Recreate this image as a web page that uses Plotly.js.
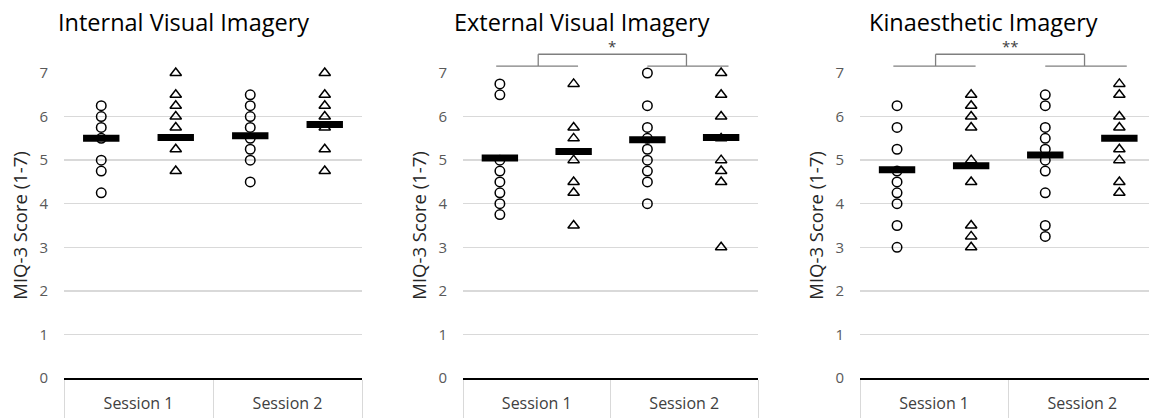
<!DOCTYPE html>
<html>
<head>
<meta charset="utf-8">
<script src="https://cdn.plot.ly/plotly-3.0.1.min.js"></script>
<style>
  html, body { margin: 0; padding: 0; background: #fff; }
  #chart { width: 1149px; height: 418px; }
</style>
</head>
<body>
<div id="chart"></div>
<script>
// Sub-positions within each session: circles (first group) and triangles (second group)
const positions = [0.5, 1.5, 2.5, 3.5];
const sessionCenters = [1, 3];
const sessionLabels = ['Session 1', 'Session 2'];
const yTicks = [0, 1, 2, 3, 4, 5, 6, 7];
const yMax = 7;

const panelTitles = ['Internal Visual Imagery', 'External Visual Imagery', 'Kinaesthetic Imagery'];
const yTitle = 'MIQ-3 Score (1-7)';

// Internal Visual Imagery
const iviS1Circles = [6.25, 6.0, 5.75, 5.5, 5.0, 4.75, 4.25];
const iviS1Triangles = [7.0, 6.5, 6.25, 6.0, 5.75, 5.25, 4.75];
const iviS2Circles = [6.5, 6.25, 6.0, 5.75, 5.5, 5.25, 5.0, 4.5];
const iviS2Triangles = [7.0, 6.5, 6.25, 6.0, 5.75, 5.25, 4.75];
const iviMeans = [5.5, 5.52, 5.56, 5.82];

// External Visual Imagery
const eviS1Circles = [6.75, 6.5, 5.0, 4.75, 4.5, 4.25, 4.0, 3.75];
const eviS1Triangles = [6.75, 5.75, 5.5, 5.0, 4.5, 4.25, 3.5];
const eviS2Circles = [7.0, 6.25, 5.75, 5.5, 5.25, 5.0, 4.75, 4.5, 4.0];
const eviS2Triangles = [7.0, 6.5, 6.0, 5.5, 5.0, 4.75, 4.5, 3.0];
const eviMeans = [5.05, 5.2, 5.47, 5.52];

// Kinaesthetic Imagery
const kiS1Circles = [6.25, 5.75, 5.25, 4.75, 4.5, 4.25, 4.0, 3.5, 3.0];
const kiS1Triangles = [6.5, 6.25, 6.0, 5.75, 5.0, 4.5, 3.5, 3.25, 3.0];
const kiS2Circles = [6.5, 6.25, 5.75, 5.5, 5.25, 5.0, 4.75, 4.25, 3.5, 3.25];
const kiS2Triangles = [6.75, 6.5, 6.0, 5.75, 5.25, 5.0, 4.5, 4.25];
const kiMeans = [4.78, 4.87, 5.12, 5.5];

// Significance brackets (panels 2 and 3), heights on the score scale
const bracketLabels = ['', '*', '**'];
const bracketLeftSpan = [0.45, 1.56];
const bracketRightSpan = [2.5, 3.6];
const bracketStems = [1.02, 3.03];
const bracketLow = 7.16;
const bracketHigh = 7.43;
const bracketLabelY = 7.62;

const panels = [
  {groups: [iviS1Circles, iviS1Triangles, iviS2Circles, iviS2Triangles], means: iviMeans},
  {groups: [eviS1Circles, eviS1Triangles, eviS2Circles, eviS2Triangles], means: eviMeans},
  {groups: [kiS1Circles, kiS1Triangles, kiS2Circles, kiS2Triangles], means: kiMeans}
];

const FONT = '"Open Sans", "Noto Sans", sans-serif';
const traces = [];
const shapes = [];
const annotations = [];

panels.forEach((p, i) => {
  const sfx = i === 0 ? '' : String(i + 1);
  const xa = 'x' + sfx, ya = 'y' + sfx;
  p.groups.forEach((vals, g) => {
    const isCircle = g % 2 === 0;
    traces.push({
      type: 'scatter', mode: 'markers', xaxis: xa, yaxis: ya,
      x: vals.map(() => positions[g]), y: vals,
      marker: {
        symbol: isCircle ? 'circle-open' : 'triangle-up-open',
        size: isCircle ? 9.5 : 10,
        color: '#000',
        line: {width: 1.5, color: '#000'}
      },
      cliponaxis: false, hoverinfo: 'y', showlegend: false
    });
  });
  traces.push({
    type: 'scatter', mode: 'markers', xaxis: xa, yaxis: ya,
    x: positions, y: p.means,
    marker: {symbol: 'line-ew', size: 26, color: '#000', line: {width: 7, color: '#000'}},
    cliponaxis: false, hoverinfo: 'y', showlegend: false
  });

  if (bracketLabels[i]) {
    // brackets sit above the top of the scale, placed in y-domain units
    const yd = ya + ' domain';
    const lo = bracketLow / yMax, hi = bracketHigh / yMax;
    const ln = {color: '#7f7f7f', width: 1.3};
    shapes.push(
      {type: 'line', xref: xa, yref: yd, x0: bracketLeftSpan[0], x1: bracketLeftSpan[1], y0: lo, y1: lo, line: ln},
      {type: 'line', xref: xa, yref: yd, x0: bracketRightSpan[0], x1: bracketRightSpan[1], y0: lo, y1: lo, line: ln},
      {type: 'line', xref: xa, yref: yd, x0: bracketStems[0], x1: bracketStems[0], y0: lo, y1: hi, line: ln},
      {type: 'line', xref: xa, yref: yd, x0: bracketStems[1], x1: bracketStems[1], y0: lo, y1: hi, line: ln},
      {type: 'line', xref: xa, yref: yd, x0: bracketStems[0], x1: bracketStems[1], y0: hi, y1: hi, line: ln}
    );
    annotations.push({
      xref: xa, yref: yd, x: (bracketStems[0] + bracketStems[1]) / 2, y: bracketLabelY / yMax,
      xanchor: 'center', yanchor: 'middle',
      text: bracketLabels[i], showarrow: false, font: {family: FONT, size: 15, color: '#404040'}
    });
  }
});

// Panel titles
const titleX = [183 / 1149, 582 / 1149, 983 / 1149];
panelTitles.forEach((t, i) => {
  annotations.push({
    xref: 'paper', yref: 'paper', x: titleX[i], y: 1, yshift: 51, xanchor: 'center', yanchor: 'middle',
    text: t, showarrow: false, font: {family: FONT, size: 23.5, color: '#000'}
  });
});

function xAxis(domain, range, anchor) {
  return {
    domain: domain, range: range, anchor: anchor, fixedrange: true,
    tickmode: 'array', tickvals: sessionCenters, ticktext: sessionLabels,
    ticks: '', ticklabelstandoff: 10,
    tickfont: {family: FONT, size: 16, color: '#404040'},
    showgrid: false, zeroline: false,
    showline: true, linecolor: '#000', linewidth: 2,
    minor: {tickmode: 'linear', tick0: 0, dtick: 2, ticks: 'outside', ticklen: 40, tickcolor: '#d9d9d9', tickwidth: 1, showgrid: false}
  };
}
function yAxis(anchor) {
  return {
    anchor: anchor, range: [0, yMax], fixedrange: true,
    tickmode: 'array', tickvals: yTicks, ticks: '', ticklabelstandoff: 15,
    tickfont: {family: FONT, size: 15, color: '#595959'},
    title: {text: yTitle, standoff: 6, font: {family: FONT, size: 18.5, color: '#262626'}},
    automargin: false,
    showgrid: true, gridcolor: '#d9d9d9', gridwidth: 1.5,
    zeroline: false, showline: false
  };
}

const layout = {
  width: 1149, height: 418,
  margin: {l: 0, r: 0, t: 73, b: 40, pad: 0},
  paper_bgcolor: '#fff', plot_bgcolor: '#fff',
  showlegend: false,
  xaxis: xAxis([64 / 1149, 362 / 1149], [0, 4], 'y'),
  xaxis2: xAxis([463 / 1149, 758 / 1149], [0, 4], 'y2'),
  xaxis3: xAxis([860 / 1149, 1], [0, 3.9], 'y3'),
  yaxis: yAxis('x'),
  yaxis2: yAxis('x2'),
  yaxis3: yAxis('x3'),
  shapes: shapes,
  annotations: annotations
};

Plotly.newPlot('chart', traces, layout, {displayModeBar: false, staticPlot: true});
</script>
</body>
</html>
